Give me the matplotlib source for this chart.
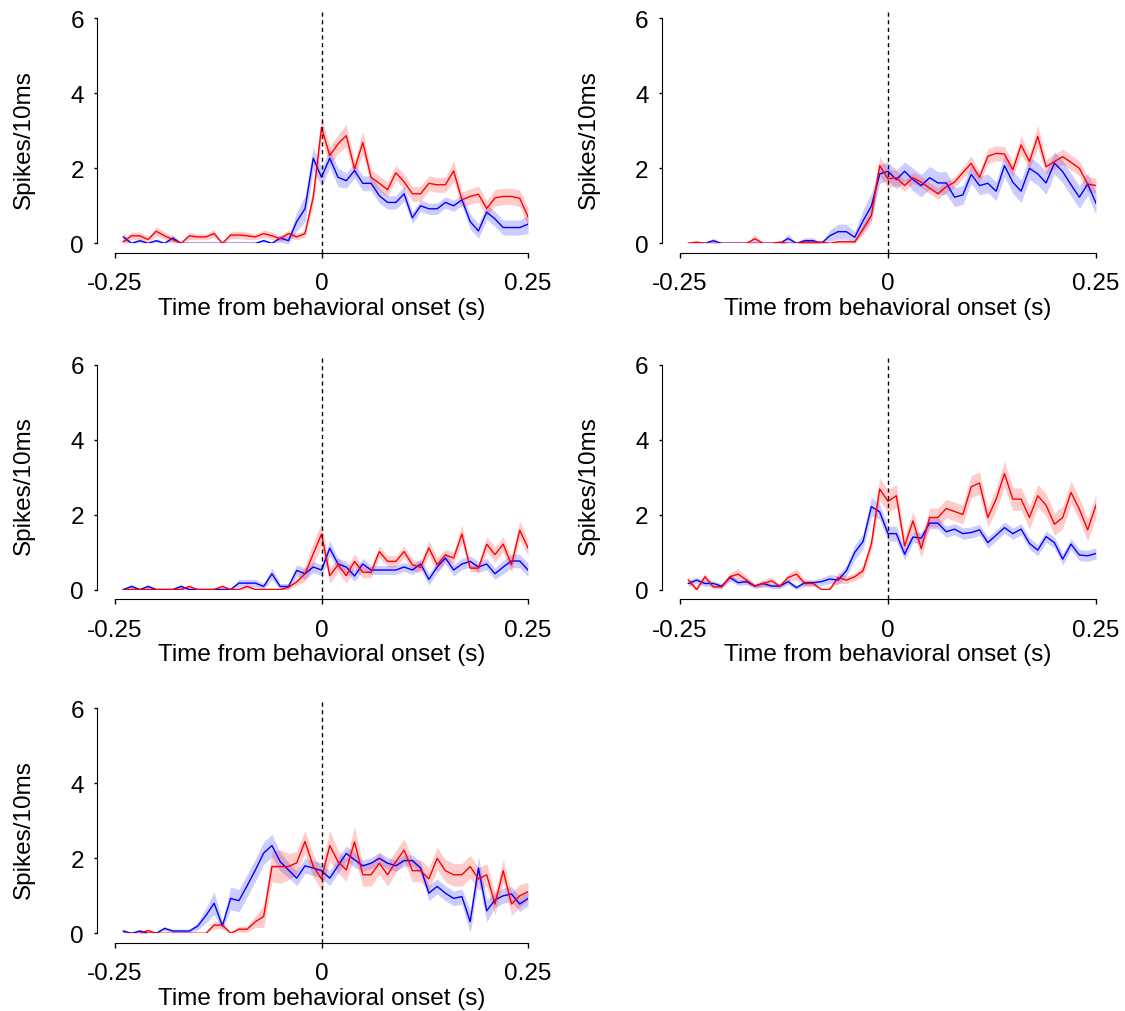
import numpy as np
import matplotlib
matplotlib.use("Agg")
import matplotlib.pyplot as plt

plt.rcParams['font.family'] = ['Liberation Sans', 'DejaVu Sans']
plt.rcParams['axes.unicode_minus'] = False

# time bins (s), 10 ms bins
t = np.round(np.arange(-0.24, 0.2501, 0.01), 2)

p1_red = [0.04,0.2,0.2,0.1,0.32,0.2,0.1,0,0.2,0.17,
          0.17,0.26,0,0.22,0.22,0.2,0.17,0.26,0.2,0.12,
          0.26,0.17,0.26,1.23,3.09,2.34,2.65,2.87,1.98,2.69,
          1.76,1.6,1.43,1.88,1.64,1.32,1.32,1.6,1.56,1.56,
          1.93,1.16,1.25,1.31,0.93,1.21,1.25,1.25,1.2,0.71]
p1_red_err = [0.08,0.1,0.1,0.08,0.12,0.1,0.08,0,0.1,0.08,
              0.08,0.1,0,0.1,0.1,0.1,0.08,0.1,0.1,0.08,
              0.1,0.08,0.1,0.25,0.3,0.25,0.25,0.3,0.2,0.3,
              0.2,0.2,0.2,0.2,0.2,0.2,0.2,0.2,0.2,0.2,
              0.28,0.2,0.2,0.22,0.2,0.22,0.22,0.22,0.22,0.25]
p1_blue = [0.17,0,0.07,0,0.07,0,0.14,0,0,0,
           0,0,0,0,0,0,0,0.07,0,0.14,
           0.07,0.58,0.92,2.27,1.76,2.27,1.76,1.67,1.94,1.6,
           1.6,1.27,1.09,1.09,1.32,0.68,1.0,0.92,0.92,1.09,
           1.0,1.16,0.58,0.33,0.83,0.65,0.42,0.42,0.42,0.51]
p1_blue_err = [0.12,0,0.05,0,0.05,0,0.1,0,0,0,
               0,0,0,0,0,0,0,0.05,0,0.1,
               0.1,0.25,0.35,0.3,0.25,0.25,0.25,0.2,0.2,0.2,
               0.2,0.2,0.18,0.18,0.2,0.15,0.15,0.15,0.15,0.15,
               0.15,0.15,0.2,0.2,0.2,0.2,0.2,0.2,0.2,0.25]

p2_red = [0,0.03,0,0,0,0,0,0,0.12,0,
          0,0.03,0,0,0.03,0.03,0.03,0,0.04,0.04,
          0.04,0.38,0.74,2.07,1.72,1.75,1.54,1.75,1.63,1.47,
          1.32,1.51,1.63,1.89,2.13,1.76,2.32,2.4,2.38,1.96,
          2.62,2.18,2.85,2.04,2.18,2.31,2.16,2.0,1.58,1.54]
p2_red_err = [0.03,0.04,0,0,0,0,0,0,0.12,0,
              0,0.04,0,0,0.04,0.04,0.04,0,0.04,0.04,
              0.04,0.15,0.2,0.25,0.25,0.2,0.15,0.15,0.15,0.15,
              0.15,0.15,0.15,0.15,0.2,0.15,0.2,0.2,0.2,0.2,
              0.25,0.2,0.3,0.2,0.2,0.2,0.2,0.2,0.2,0.2]
p2_blue = [0,0,0,0.07,0,0,0,0,0,0,
           0,0,0.13,0,0.07,0.07,0,0.2,0.31,0.31,
           0.16,0.6,0.99,1.85,1.92,1.7,1.92,1.7,1.54,1.75,
           1.61,1.61,1.23,1.29,1.84,1.54,1.6,1.39,2.07,1.63,
           1.39,2.0,1.85,1.61,2.14,1.91,1.56,1.23,1.58,1.07]
p2_blue_err = [0,0,0,0.07,0,0,0,0,0,0,
               0,0,0.12,0,0.08,0.08,0,0.15,0.2,0.2,
               0.15,0.3,0.35,0.25,0.25,0.25,0.25,0.3,0.3,0.3,
               0.3,0.3,0.25,0.25,0.25,0.25,0.25,0.25,0.3,0.3,
               0.3,0.3,0.3,0.3,0.3,0.3,0.3,0.3,0.3,0.3]

p3_red = [0,0,0,0,0,0,0,0,0.08,0,
          0,0,0.08,0,0,0.08,0,0,0,0,
          0.06,0.2,0.42,0.95,1.48,0.37,0.66,0.37,0.75,0.46,
          0.46,1.01,0.75,0.75,1.01,0.66,0.59,1.11,0.66,0.92,
          0.84,1.48,0.57,0.57,1.21,0.93,1.21,0.66,1.58,1.11]
p3_red_err = [0,0,0,0,0,0,0,0,0.07,0,
              0,0,0.07,0,0,0.07,0,0,0,0,
              0.05,0.1,0.2,0.3,0.3,0.2,0.2,0.2,0.2,0.15,
              0.15,0.15,0.15,0.15,0.15,0.15,0.15,0.2,0.2,0.15,
              0.15,0.25,0.1,0.1,0.2,0.2,0.2,0.2,0.25,0.2]
p3_blue = [0,0.08,0,0.08,0,0,0,0.08,0,0,
           0,0,0,0,0.17,0.17,0.17,0.08,0.42,0.08,
           0.08,0.51,0.42,0.6,0.52,1.1,0.68,0.6,0.36,0.68,
           0.52,0.52,0.52,0.52,0.6,0.52,0.68,0.27,0.6,0.84,
           0.52,0.68,0.75,0.6,0.68,0.42,0.6,0.76,0.76,0.52]
p3_blue_err = [0,0.07,0,0.07,0,0,0,0.07,0,0,
               0,0,0,0,0.1,0.1,0.1,0.08,0.15,0.08,
               0.08,0.15,0.15,0.15,0.15,0.2,0.15,0.15,0.15,0.15,
               0.12,0.12,0.12,0.12,0.12,0.12,0.15,0.15,0.15,0.15,
               0.15,0.15,0.15,0.15,0.15,0.15,0.18,0.18,0.18,0.18]

p4_red = [0.25,0,0.34,0.07,0.07,0.34,0.41,0.25,0.09,0.16,
          0.23,0.09,0.32,0.41,0.16,0.16,0,0,0.32,0.25,
          0.34,0.5,1.21,2.68,2.35,2.5,1.16,1.83,1.09,1.92,
          1.92,2.16,2.08,2.0,2.74,2.84,1.92,2.41,3.09,2.41,
          2.41,1.92,2.5,2.25,1.74,1.92,2.59,2.14,1.59,2.25]
p4_red_err = [0.1,0.05,0.1,0.05,0.05,0.1,0.15,0.1,0.05,0.1,
              0.1,0.05,0.1,0.15,0.08,0.08,0,0,0.15,0.1,
              0.1,0.15,0.2,0.3,0.3,0.3,0.25,0.25,0.25,0.25,
              0.25,0.25,0.25,0.25,0.3,0.3,0.25,0.3,0.35,0.3,
              0.3,0.3,0.3,0.3,0.3,0.3,0.3,0.3,0.3,0.3]
p4_blue = [0.16,0.25,0.16,0.16,0.09,0.32,0.18,0.21,0.09,0.16,
           0.09,0.09,0.21,0.05,0.18,0.18,0.21,0.28,0.25,0.5,
           0.99,1.28,2.21,2.07,1.49,1.49,0.94,1.4,1.37,1.77,
           1.77,1.54,1.61,1.49,1.52,1.59,1.25,1.45,1.65,1.49,
           1.61,1.23,1.05,1.41,1.25,0.81,1.21,0.92,0.9,0.96]
p4_blue_err = [0.08,0.08,0.08,0.08,0.06,0.08,0.08,0.08,0.06,0.08,
               0.06,0.06,0.08,0.05,0.08,0.08,0.1,0.12,0.12,0.15,
               0.2,0.2,0.25,0.2,0.2,0.2,0.15,0.15,0.15,0.15,
               0.15,0.15,0.15,0.15,0.15,0.15,0.15,0.15,0.15,0.15,
               0.15,0.15,0.15,0.15,0.15,0.15,0.15,0.15,0.15,0.15]

p5_red = [0,0,0,0.07,0,0,0,0,0,0,
          0,0.22,0.22,0,0.11,0.11,0.31,0.45,1.78,1.78,
          1.78,1.88,2.45,1.79,1.45,2.34,1.91,1.69,2.44,1.56,
          1.56,1.87,1.56,1.91,2.22,1.67,1.67,1.45,2.0,1.67,
          1.56,1.56,1.78,1.45,1.56,0.78,1.67,0.78,1.0,1.11]
p5_red_err = [0,0,0,0.07,0,0,0,0,0,0,
              0,0.1,0.1,0,0.08,0.08,0.15,0.3,0.4,0.45,
              0.35,0.3,0.3,0.3,0.3,0.4,0.3,0.3,0.4,0.3,
              0.3,0.3,0.3,0.3,0.3,0.3,0.3,0.3,0.3,0.3,
              0.3,0.3,0.3,0.3,0.3,0.3,0.3,0.3,0.3,0.25]
p5_blue = [0.06,0,0.06,0,0,0.13,0.06,0.06,0.06,0.19,
           0.47,0.8,0.2,0.93,0.87,1.27,1.69,2.14,2.34,1.91,
           1.69,1.47,1.8,1.74,1.67,1.47,1.8,2.13,1.96,1.8,
           1.87,2.0,1.87,1.8,1.94,1.94,1.74,1.07,1.25,1.07,
           0.93,0.98,0.31,1.74,0.6,0.89,1.0,1.05,0.78,0.93]
p5_blue_err = [0.05,0,0.05,0,0,0.05,0.05,0.05,0.05,0.1,
               0.2,0.3,0.1,0.3,0.3,0.3,0.3,0.3,0.3,0.25,
               0.2,0.2,0.2,0.2,0.2,0.2,0.2,0.2,0.2,0.15,
               0.15,0.15,0.15,0.15,0.15,0.15,0.15,0.2,0.2,0.2,
               0.2,0.2,0.3,0.3,0.3,0.2,0.2,0.2,0.2,0.2]

panels = [
    (p1_red, p1_red_err, p1_blue, p1_blue_err),
    (p2_red, p2_red_err, p2_blue, p2_blue_err),
    (p3_red, p3_red_err, p3_blue, p3_blue_err),
    (p4_red, p4_red_err, p4_blue, p4_blue_err),
    (p5_red, p5_red_err, p5_blue, p5_blue_err),
]

W, H = 1125, 1012
fig = plt.figure(figsize=(W / 100, H / 100), dpi=100)

# pixel layout: (x left, x right, y of value 0)
col_x = [(115, 528), (680, 1096)]
row_zero = [244.3, 590.5, 934.3]
ax_h = 225

fs = 17.5
for k, (r, re, b, be) in enumerate(panels):
    x0, x1 = col_x[k % 2]
    yz = row_zero[k // 2]
    ax = fig.add_axes([x0 / W, 1 - yz / H, (x1 - x0) / W, ax_h / H])
    r, re, b, be = map(np.array, (r, re, b, be))
    ax.fill_between(t, b - be, b + be, color='b', alpha=0.2, lw=0)
    ax.fill_between(t, r - re, r + re, color='r', alpha=0.2, lw=0)
    ax.plot(t, b, color='b', lw=1)
    ax.plot(t, r, color='r', lw=1)
    ax.plot([0, 0], [-0.25, 6.2], 'k--', lw=1, clip_on=False, dashes=(3, 2.5))

    ax.set_xlim(-0.25, 0.25)
    ax.set_ylim(0, 6)
    for s in ['top', 'right']:
        ax.spines[s].set_visible(False)
    ax.spines['left'].set_position(('outward', 13))
    ax.spines['bottom'].set_position(('outward', 7))
    ax.spines['left'].set_bounds(0, 6)
    ax.spines['bottom'].set_bounds(-0.25, 0.25)
    ax.set_xticks([-0.25, 0, 0.25])
    ax.set_xticklabels(['-0.25', '0', '0.25'])
    ax.set_yticks([0, 2, 4, 6])
    ax.set_yticklabels(['0', '2', '4', '6'])
    ax.tick_params(axis='both', labelsize=fs, direction='out', length=3.5, width=1)
    ax.tick_params(axis='y', length=2.5, pad=7)
    ax.tick_params(axis='x', pad=10.5)
    ax.set_xlabel('Time from behavioral onset (s)', fontsize=fs, labelpad=1.5)
    ax.set_ylabel('Spikes/10ms', fontsize=fs, labelpad=25, y=0.465)

fig.savefig('out.png', dpi=100)
